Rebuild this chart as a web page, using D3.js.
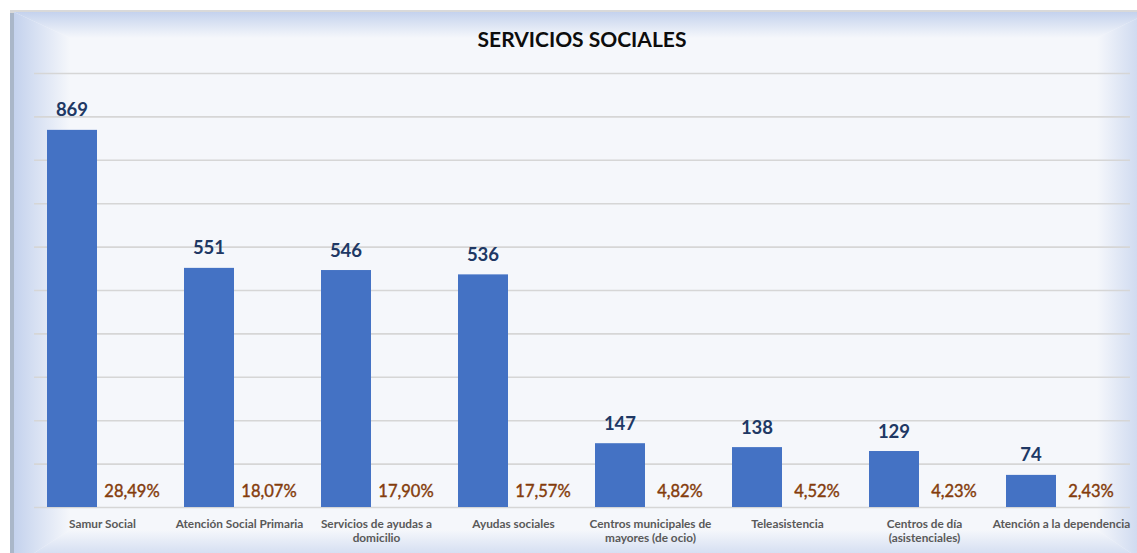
<!DOCTYPE html>
<html><head><meta charset="utf-8">
<script src="https://cdn.jsdelivr.net/npm/d3@7"></script>
<style>html,body{margin:0;padding:0;background:#fff;}svg{display:block;}</style>
</head><body>
<svg id="chart" width="1137" height="553"></svg>
<script>
const categories = [
  ["Samur Social"],
  ["Atención Social Primaria"],
  ["Servicios de ayudas a", "domicilio"],
  ["Ayudas sociales"],
  ["Centros municipales de", "mayores (de ocio)"],
  ["Teleasistencia"],
  ["Centros de día", "(asistenciales)"],
  ["Atención a la dependencia"]
];
const values = [869, 551, 546, 536, 147, 138, 129, 74];
const percents = ["28,49%", "18,07%", "17,90%", "17,57%", "4,82%", "4,52%", "4,23%", "2,43%"];
const yTicks = [0, 100, 200, 300, 400, 500, 600, 700, 800, 900, 1000];
const title = "SERVICIOS SOCIALES";

const W = 1137, H = 553;
const svg = d3.select("#chart");
const defs = svg.append("defs");

// Card background with bevel
const cardL = 14, cardT = 12, cardR = 1150, cardB = 566;
const edge = "#c4d2ed", inner = "#f5f7fb";
function grad(id, x1, y1, x2, y2) {
  const g = defs.append("linearGradient").attr("id", id)
    .attr("x1", x1).attr("y1", y1).attr("x2", x2).attr("y2", y2);
  g.append("stop").attr("offset", "0%").attr("stop-color", edge);
  g.append("stop").attr("offset", "100%").attr("stop-color", inner);
}
grad("gTop", 0, 0, 0, 1);
grad("gLeft", 0, 0, 1, 0);
grad("gRight", 1, 0, 0, 0);
grad("gBot", 0, 1, 0, 0);

svg.append("rect").attr("x", 10).attr("y", 10).attr("width", W).attr("height", H)
  .attr("fill", "#d9d9d9");
svg.append("rect").attr("x", 10).attr("y", 13).attr("width", 4).attr("height", H)
  .attr("fill", "#aab7c9");
svg.append("rect").attr("x", cardL).attr("y", cardT).attr("width", cardR - cardL).attr("height", cardB - cardT)
  .attr("fill", inner);
const bt = 26, bl = 56, br = 53, bb = 36;
svg.append("polygon").attr("fill", "url(#gTop)")
  .attr("points", [[cardL, cardT], [cardR, cardT], [cardR - br, cardT + bt], [cardL + bl, cardT + bt]].join(" "));
svg.append("polygon").attr("fill", "url(#gLeft)")
  .attr("points", [[cardL, cardT], [cardL + bl, cardT + bt], [cardL + bl, cardB - bb], [cardL, cardB]].join(" "));
svg.append("polygon").attr("fill", "url(#gRight)")
  .attr("points", [[cardR, cardT], [cardR, cardB], [cardR - br, cardB - bb], [cardR - br, cardT + bt]].join(" "));
svg.append("polygon").attr("fill", "url(#gBot)")
  .attr("points", [[cardL, cardB], [cardR, cardB], [cardR - br, cardB - bb], [cardL + bl, cardB - bb]].join(" "));

// Title
svg.append("text").attr("x", 582).attr("y", 47).attr("text-anchor", "middle")
  .attr("font-family", "Lato").attr("font-weight", 700).attr("font-size", 21)
  .attr("fill", "#0d0d0d").text(title);

// Scales
const plotL = 34, plotR = 1130, plotT = 73, plotB = 507;
const x = d3.scaleBand().domain(d3.range(categories.length)).range([plotL, plotR]).padding(0);
const y = d3.scaleLinear().domain([0, 1000]).range([plotB, plotT]);

// Gridlines
const grid = svg.append("g").call(d3.axisLeft(y).tickValues(yTicks).tickSize(-(plotR - plotL)).tickFormat(""))
  .attr("transform", `translate(${plotL},0)`);
grid.select(".domain").remove();
grid.selectAll(".tick line").attr("stroke", "#d6d6d6").attr("stroke-width", 1.6);

const barW = 50, barOff = -30.5, pctOff = 29.5;
const cx = i => x(i) + x.bandwidth() / 2;

// Bars
svg.append("g").selectAll("rect").data(values).join("rect")
  .attr("x", (d, i) => cx(i) + barOff - barW / 2)
  .attr("width", barW)
  .attr("y", d => y(d))
  .attr("height", d => y(0) - y(d))
  .attr("fill", "#4472c4");

// Value labels
svg.append("g").selectAll("text").data(values).join("text")
  .attr("x", (d, i) => cx(i) + barOff)
  .attr("y", d => y(d) - 13.5)
  .attr("text-anchor", "middle")
  .attr("font-family", "Lato").attr("font-weight", 700).attr("font-size", 18.5)
  .attr("fill", "#203864").text(d => d);

// Percent labels
svg.append("g").selectAll("text").data(percents).join("text")
  .attr("x", (d, i) => cx(i) + pctOff)
  .attr("y", 497)
  .attr("text-anchor", "middle")
  .attr("font-family", "Lato").attr("font-weight", 400).attr("font-size", 16.5)
  .attr("fill", "#843c0c").attr("stroke", "#843c0c").attr("stroke-width", 0.4)
  .text(d => d);

// Category labels
const xa = svg.append("g").attr("transform", `translate(0,${plotB})`)
  .call(d3.axisBottom(x).tickSize(0).tickFormat(""));
xa.select(".domain").remove();
const catG = svg.append("g");
categories.forEach((lines, i) => {
  const t = catG.append("text").attr("x", cx(i)).attr("y", 528)
    .attr("text-anchor", "middle")
    .attr("font-family", "Lato").attr("font-weight", 700).attr("font-size", 11.8)
    .attr("fill", "#595959");
  lines.forEach((l, j) => t.append("tspan").attr("x", cx(i)).attr("dy", j === 0 ? 0 : 14).text(l));
});
</script>
</body></html>
